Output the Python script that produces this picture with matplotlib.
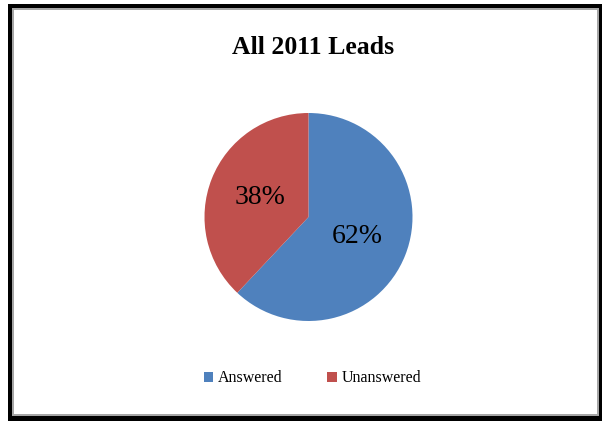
import matplotlib
matplotlib.use("Agg")
import matplotlib.pyplot as plt
from matplotlib.patches import Rectangle

categories = ["Answered", "Unanswered"]
shares = [62, 38]
colors = ["#4F81BD", "#C0504D"]
title = "All 2011 Leads"

W, H = 602, 421
fig = plt.figure(figsize=(W / 100, H / 100), dpi=100)
fig.patch.set_facecolor("white")

def px_rect(x0, y0, x1, y1, **kw):
    # rectangle given in pixel coordinates (origin top-left)
    fig.patches.append(Rectangle((x0 / W, 1 - y1 / H), (x1 - x0) / W, (y1 - y0) / H,
                                 transform=fig.transFigure, figure=fig, zorder=-5, **kw))

# frame: black outer band, grey inner line, white panel
px_rect(8, 4, 602, 421, facecolor="black", edgecolor="none")
px_rect(12, 8, 599, 416, facecolor="#A6A6A6", edgecolor="none")
px_rect(14, 10, 597, 414, facecolor="white", edgecolor="none")

serif = ["Liberation Serif", "DejaVu Serif"]

fig.text(313 / W, 1 - 48 / H, title, ha="center", va="center",
         fontsize=18.5, fontweight="bold", family=serif)

# pie: centre (308.5, 217), radius ~104 px
cx, cy, r = 308.5, 217, 104
ax = fig.add_axes([(cx - r) / W, 1 - (cy + r) / H, 2 * r / W, 2 * r / H])
ax.patch.set_visible(False)
wedges, texts, autotexts = ax.pie(
    shares, colors=colors, startangle=90, counterclock=False,
    autopct=lambda p: f"{p:.0f}%", pctdistance=0.5,
    wedgeprops=dict(edgecolor="none"),
    textprops=dict(family=serif, fontsize=20, color="black"))
ax.set_aspect("equal")
ax.set_xlim(-1, 1)
ax.set_ylim(-1, 1)

# legend
leg = fig.legend(wedges, categories, loc="center", bbox_to_anchor=(312.5 / W, 1 - 378.5 / H),
                 ncol=2, frameon=False, prop=dict(family=serif, size=11.5),
                 handlelength=0.6, handleheight=0.6, handletextpad=0.3, columnspacing=2.8)

fig.savefig("out.png", dpi=100)
